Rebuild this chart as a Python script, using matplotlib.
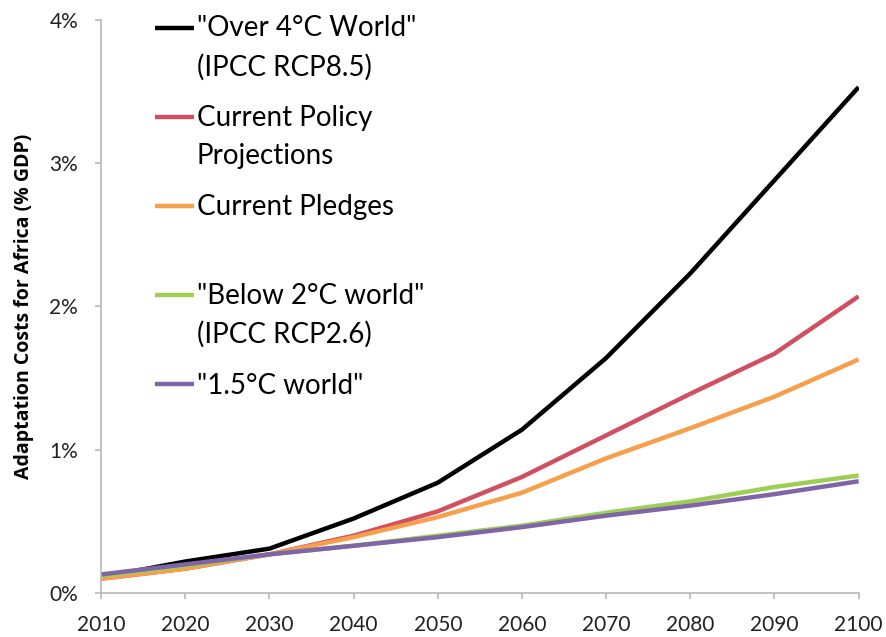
"""Adaptation costs for Africa under different warming scenarios."""

import matplotlib

matplotlib.use("Agg")
import matplotlib.pyplot as plt
from matplotlib.legend_handler import HandlerLine2D
from matplotlib.ticker import FuncFormatter

plt.rcParams["font.family"] = ["Lato", "DejaVu Sans"]

YEARS = [2010, 2020, 2030, 2040, 2050, 2060, 2070, 2080, 2090, 2100]

OVER_4C = [0.11, 0.22, 0.31, 0.52, 0.77, 1.14, 1.64, 2.23, 2.88, 3.53]
CURRENT_POLICY = [0.10, 0.17, 0.27, 0.40, 0.57, 0.81, 1.10, 1.39, 1.67, 2.07]
CURRENT_PLEDGES = [0.10, 0.17, 0.27, 0.39, 0.53, 0.70, 0.94, 1.15, 1.37, 1.63]
BELOW_2C = [0.12, 0.19, 0.27, 0.33, 0.40, 0.47, 0.56, 0.64, 0.74, 0.82]
WORLD_1_5C = [0.13, 0.20, 0.27, 0.33, 0.39, 0.46, 0.54, 0.61, 0.69, 0.78]

LABELS = [
    '"Over 4°C World"\n(IPCC RCP8.5)',
    "Current Policy\nProjections",
    "Current Pledges\n ",
    '"Below 2°C world"\n(IPCC RCP2.6)',
    '"1.5°C world"',
]
COLORS = ["#000000", "#d0505f", "#f79f4a", "#9dcf55", "#8064a8"]

Y_TICKS = [0, 1, 2, 3, 4]
X_TICKS = YEARS

LEGEND_SIZE = 20
LINE_SPACING = 1.57


class TopLineHandler(HandlerLine2D):
    """Put the legend swatch level with the first line of a two-line label."""

    def create_artists(self, legend, orig_handle, xdescent, ydescent,
                       width, height, fontsize, trans):
        artists = super().create_artists(legend, orig_handle, xdescent, ydescent,
                                         width, height, fontsize, trans)
        n_lines = orig_handle.get_label().count("\n") + 1
        shift = (n_lines - 1) * fontsize * LINE_SPACING * 0.96 / 2
        for art in artists:
            art.set_ydata([y + shift for y in art.get_ydata()])
        return artists


def main() -> None:
    fig = plt.figure(figsize=(8.87, 6.37), dpi=100)
    ax = fig.add_axes([0.114, 0.069, 0.854, 0.9])

    series = [OVER_4C, CURRENT_POLICY, CURRENT_PLEDGES, BELOW_2C, WORLD_1_5C]
    lines = []
    for values, label, color in zip(series, LABELS, COLORS):
        (line,) = ax.plot(YEARS, values, color=color, linewidth=3.2,
                          label=label, solid_capstyle="butt")
        lines.append(line)

    ax.set_xlim(2010, 2100)
    ax.set_ylim(0, 4)
    ax.set_xticks(X_TICKS)
    ax.set_yticks(Y_TICKS)
    ax.yaxis.set_major_formatter(FuncFormatter(lambda v, _: f"{v:.0f}%"))

    for side in ("top", "right"):
        ax.spines[side].set_visible(False)
    for side in ("left", "bottom"):
        ax.spines[side].set_color("#b7b7b7")
        ax.spines[side].set_linewidth(1.2)
    ax.tick_params(axis="both", color="#b7b7b7", width=1.2, length=4.5,
                   labelsize=15, labelcolor="#222222")
    ax.tick_params(axis="y", pad=12)
    ax.tick_params(axis="x", pad=11)

    ax.set_ylabel("Adaptation Costs for Africa (% GDP)", fontsize=14,
                  family=["Open Sans", "DejaVu Sans"], fontweight="bold",
                  labelpad=11)

    leg = ax.legend(
        handles=lines,
        handler_map={line: TopLineHandler() for line in lines},
        loc="upper left",
        bbox_to_anchor=(0.175, 0.976),
        bbox_transform=fig.transFigure,
        frameon=False,
        fontsize=LEGEND_SIZE,
        handlelength=1.4,
        handletextpad=0.1,
        labelspacing=0.89,
        borderpad=0,
        borderaxespad=0,
    )
    for text in leg.get_texts():
        text.set_linespacing(LINE_SPACING)

    fig.savefig("out.png", dpi=100)
    plt.close(fig)


if __name__ == "__main__":
    main()
